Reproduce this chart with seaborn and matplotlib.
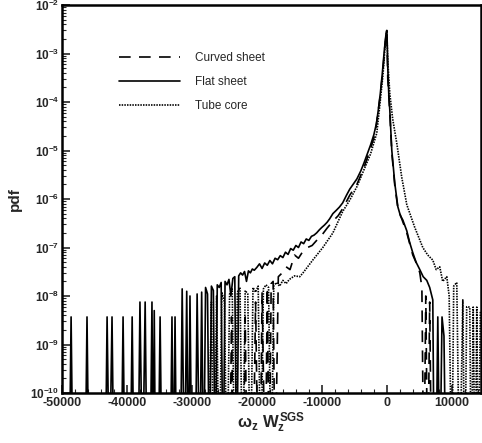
import numpy as np
import pandas as pd
import seaborn as sns
from matplotlib import pyplot as plt
from matplotlib.ticker import MultipleLocator, LogLocator, FuncFormatter, NullFormatter

# Flat sheet (сплошная)
flat_x = [-48900, -48600, -48300, -46450, -46150, -45850, -43350, -43060, -42700, -42300, -42000,
          -40900, -40600, -40300, -39500, -39200, -38900, -38300, -38000, -37600, -37200, -36900,
          -36450, -36150, -35950, -35800, -35600, -35200, -34900, -34600, -33350, -33070, -32850, -32600, -32350,
          -31800, -31500, -31150, -30800, -30550, -30300, -30000, -29500, -29200,
          -28800, -28500, -28200, -27900, -27600, -27300, -27000, -26700, -26400, -26100, -25800, -25500,
          -25200, -24900, -24600, -24300, -24000, -23700, -23400, -23100, -22800, -22500, -22200, -21900,
          -21600, -21300, -21000, -20700, -20400,
          -20000, -19600, -19200, -18800, -18400, -18000, -17600, -17200, -16800, -16400, -16000, -15600,
          -15200, -14800, -14400, -14000, -13600, -13200, -12800, -12400, -12000, -11600, -11200, -10800,
          -10400, -10000, -9600, -9200, -8800, -8300, -7800, -7300, -6800, -6200, -5700, -5200, -4600,
          -4000, -3500, -3000, -2500, -2000, -1600, -1300, -1000, -700, -400, -200, -100, 0,
          50, 150, 300, 460, 770, 1230, 1700, 2100, 2460, 3080, 3500, 4000, 4500, 5080, 5600, 6150, 6600,
          7080, 7300, 7550, 7850, 8150, 8500, 8800, 9100]
flat_pdf = [0, 3.7e-9, 0, 0, 3.7e-9, 0, 0, 3.7e-9, 0, 3.7e-9, 0,
            0, 3.7e-9, 0, 0, 3.7e-9, 0, 0, 7.5e-9, 0, 7.5e-9, 0,
            0, 7.5e-9, 0, 5.0e-9, 0, 0, 3.7e-9, 0, 0, 3.7e-9, 0, 3.7e-9, 0,
            0, 1.4e-8, 0, 1.25e-8, 0, 1.0e-8, 0, 0, 1.1e-8,
            0, 1.2e-8, 0, 1.5e-8, 1.1e-8, 0, 1.6e-8, 1.3e-8, 0, 1.7e-8, 1.5e-8, 1.9e-8,
            0, 2.0e-8, 1.7e-8, 2.2e-8, 1.0e-8, 2.3e-8, 2.5e-8, 0, 2.6e-8, 3.0e-8, 2.7e-8, 3.2e-8,
            2.0e-8, 3.3e-8, 3.0e-8, 3.6e-8, 3.4e-8,
            3.9e-8, 4.6e-8, 3.7e-8, 4.8e-8, 4.3e-8, 5.4e-8, 4.6e-8, 6.0e-8, 5.6e-8, 6.8e-8, 6.2e-8, 8.0e-8,
            7.2e-8, 9.5e-8, 8.8e-8, 1.1e-7, 1.0e-7, 1.3e-7, 1.2e-7, 1.5e-7, 1.4e-7, 1.7e-7, 1.8e-7, 2.0e-7,
            2.3e-7, 2.6e-7, 2.9e-7, 3.3e-7, 3.9e-7, 5.0e-7, 5.8e-7, 6.8e-7, 8.3e-7, 1.2e-6, 1.6e-6, 2.0e-6, 2.6e-6,
            3.8e-6, 5.6e-6, 8.5e-6, 1.3e-5, 2.1e-5, 3.6e-5, 7.0e-5, 1.5e-4, 3.8e-4, 1.1e-3, 2.0e-3, 2.7e-3, 3.0e-3,
            2.0e-3, 5.0e-4, 1.5e-4, 6.9e-5, 1.0e-5, 2.1e-6, 6.9e-7, 4.5e-7, 3.7e-7, 2.2e-7, 1.3e-7, 7.8e-8, 5.0e-8,
            3.5e-8, 2.5e-8, 2.1e-8, 1.5e-8,
            8.3e-9, 0, 0, 3.7e-9, 0, 3.7e-9, 1.5e-9, 0]

# Curved sheet (пунктир)
curved_x = [-24200, -23900, -23600, -22100, -21800, -21500, -20600, -20200, -19800, -19500, -19200,
            -18700, -18400, -18100, -17800, -17500, -17200, -16700, -16100, -15500, -14900, -14200,
            -13600, -13000, -12200, -11500, -10800, -10000, -9200, -8300, -7500, -6800, -5700, -4600,
            -3500, -2500, -1800, -1100, -600, -300, -100, 0,
            150, 460, 770, 1230, 1700, 2460, 3080, 4000, 4800, 5080, 5400, 5700, 6000, 6300, 6600, 6900]
curved_pdf = [0, 3.7e-9, 0, 0, 3.7e-9, 0, 0, 7.5e-9, 0, 0, 1.2e-8,
              0, 1.5e-8, 0, 1.8e-8, 2.0e-8, 0, 2.5e-8, 3.0e-8, 4.0e-8, 3.5e-8, 7.0e-8,
              6.0e-8, 8.0e-8, 1.0e-7, 1.1e-7, 1.4e-7, 1.8e-7, 2.5e-7, 3.5e-7, 4.5e-7, 6.3e-7, 1.2e-6, 2.0e-6,
              4.5e-6, 1.1e-5, 2.2e-5, 1.1e-4, 4.5e-4, 1.4e-3, 2.5e-3, 2.8e-3,
              3.0e-4, 6.0e-5, 9.0e-6, 1.9e-6, 6.5e-7, 3.4e-7, 2.0e-7, 7.0e-8, 4.0e-8, 3.0e-8, 1.5e-8, 0,
              1.0e-8, 0, 7.5e-9, 0]

# Tube core (точки)
tube_x = [-27500, -27000, -26600, -26200, -25800, -25400, -25000, -24600, -24200, -23800, -23400,
          -23000, -22600, -22200, -21800, -21400, -21000, -20600, -20200, -19800, -19400, -19000,
          -18600, -18200, -17800, -17400, -17000, -16500, -16000, -15500, -15000, -14200, -13400,
          -12900, -11400, -9850, -8300, -6800, -5700, -4600, -3700, -2500, -1540, -1100, -600, -300,
          -100, 0, 150, 460, 900, 1540, 2300, 3080, 4300, 5540, 6300, 7080, 7600, 8150, 8600, 9230,
          9600, 10000, 10300, 10770, 11200, 11700, 12000, 12300, 12770, 13000, 13300, 13600, 13850,
          14100, 14400]
tube_pdf = [0, 7.5e-9, 0, 1.0e-8, 0, 1.2e-8, 7.5e-9, 0, 1.1e-8, 1.4e-8, 0,
            1.2e-8, 1.5e-8, 0, 1.3e-8, 1.1e-8, 0, 1.5e-8, 1.2e-8, 1.6e-8, 0, 1.4e-8,
            1.7e-8, 1.5e-8, 0, 1.6e-8, 1.9e-8, 1.6e-8, 2.1e-8, 1.8e-8, 2.2e-8, 2.6e-8, 2.5e-8,
            3.0e-8, 5.5e-8, 1.0e-7, 2.0e-7, 5.5e-7, 9.5e-7, 1.8e-6, 3.5e-6, 8.5e-6, 2.3e-5, 8.0e-5, 3.5e-4, 1.2e-3,
            2.4e-3, 3.0e-3, 7.0e-4, 1.5e-4, 4.5e-5, 1.4e-5, 2.8e-6, 7.6e-7, 2.6e-7, 1.0e-7, 7.0e-8, 5.5e-8,
            3.5e-8, 4.0e-8, 2.0e-8, 2.5e-8,
            1.0e-8, 0, 1.6e-8, 1.9e-8, 0, 8.3e-9, 0, 6.0e-9, 5.9e-9, 0, 5.9e-9, 0, 5.9e-9,
            0, 5.0e-9]

series = ['Curved sheet', 'Flat sheet', 'Tube core']
floor_value = 1e-12  # пустые бины -> ниже оси

frames = []
for name, xs, ps in zip(series, [curved_x, flat_x, tube_x], [curved_pdf, flat_pdf, tube_pdf]):
    d = pd.DataFrame({'x': xs, 'pdf': ps})
    d['pdf'] = d['pdf'].where(d['pdf'] > 0, floor_value)
    d['series'] = name
    frames.append(d)
df = pd.concat(frames, ignore_index=True)

sns.set_theme(style="ticks")
plt.rcParams['font.family'] = ['Liberation Sans', 'DejaVu Sans']
plt.rcParams['mathtext.fontset'] = 'custom'
plt.rcParams['mathtext.rm'] = 'Liberation Sans:bold'
plt.rcParams['mathtext.bf'] = 'Liberation Sans:bold'
plt.rcParams['mathtext.it'] = 'Liberation Sans:bold'

fig = plt.figure(figsize=(4.82, 4.43), dpi=100)
ax = fig.add_axes([62 / 482, 1 - 393 / 443, 419 / 482, 388 / 443])
ax.set_yscale('log')

styles = {'Curved sheet': (0, (7, 5)), 'Flat sheet': '-', 'Tube core': (0, (0.9, 0.7))}
for name in series:
    sub = df[df['series'] == name]
    sns.lineplot(data=sub, x='x', y='pdf', ax=ax, color='black', lw=1.2,
                 linestyle=styles[name], estimator=None, sort=False, label=name)

ax.set_xlim(-50000, 14500)
ax.set_ylim(1e-10, 1e-2)

ax.xaxis.set_major_locator(MultipleLocator(10000))
ax.xaxis.set_minor_locator(MultipleLocator(2000))
ax.xaxis.set_major_formatter(FuncFormatter(lambda v, p: f'{int(v)}'))
ax.yaxis.set_major_locator(LogLocator(base=10, numticks=20))
ax.yaxis.set_minor_locator(LogLocator(base=10, subs=np.arange(2, 10), numticks=100))
ax.yaxis.set_minor_formatter(NullFormatter())
ax.yaxis.set_major_formatter(FuncFormatter(lambda v, p: r'$\mathbf{10^{%d}}$' % round(np.log10(v))))

ax.tick_params(axis='x', which='major', labelsize=9, pad=3)
ax.tick_params(axis='y', which='major', labelsize=8.5, pad=2)
ax.tick_params(which='major', direction='in', length=6, width=1.2)
ax.tick_params(which='minor', direction='in', length=3, width=0.8)
for lab in ax.get_xticklabels():
    lab.set_fontweight('bold')
for s in ax.spines.values():
    s.set_linewidth(1.8)
    s.set_color('black')

ax.set_xlabel(r'$\omega_z\ W_z^{SGS}$', fontsize=12, labelpad=1)
ax.set_ylabel('pdf', fontsize=11, fontweight='bold', labelpad=6)

ax.legend(loc='upper left', bbox_to_anchor=(0.11, 0.905), frameon=False, fontsize=8.5,
          handlelength=5.2, handletextpad=1.3, labelspacing=1.0)

plt.savefig('out.png', dpi=100)
